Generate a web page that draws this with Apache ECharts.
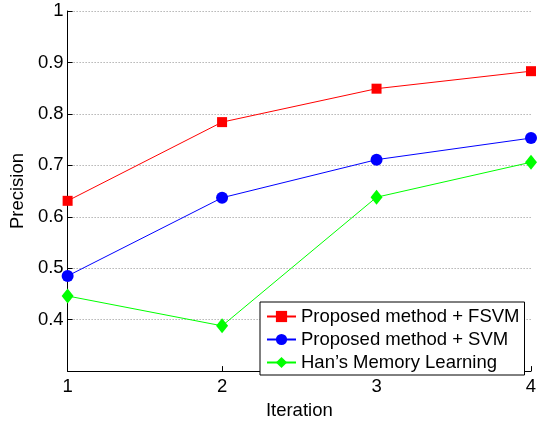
<!DOCTYPE html>
<html><head><meta charset="utf-8">
<script src="https://cdn.jsdelivr.net/npm/echarts@6/dist/echarts.min.js"></script>
<style>html,body{margin:0;padding:0;background:#fff}#c{width:545px;height:425px}</style>
</head><body><div id="c"></div>
<script>
const iterations = [1, 2, 3, 4];
const fsvm = [0.631, 0.784, 0.849, 0.883];
const svm = [0.485, 0.637, 0.711, 0.753];
const han = [0.446, 0.388, 0.638, 0.706];
const seriesNames = ['Proposed method + FSVM', 'Proposed method + SVM', 'Han\u2019s Memory Learning'];
const yTicks = [0.4, 0.5, 0.6, 0.7, 0.8, 0.9, 1];

const font = 'Liberation Sans, Arial, Helvetica, sans-serif';
const fs = 18.5;
function pairs(v){ return iterations.map((x,i)=>[x, v[i]]); }
const chart = echarts.init(document.getElementById('c'), null, {renderer:'canvas'});
chart.setOption({
  animation: false,
  backgroundColor: '#fff',
  textStyle: {fontFamily: font},
  grid: {left: 66, right: 14, top: 11, bottom: 47, containLabel: false},
  xAxis: {
    type: 'value', min: 1, max: 4, interval: 1,
    name: 'Iteration', nameLocation: 'middle', nameGap: 26,
    nameTextStyle: {fontSize: fs, color: '#000', fontFamily: font},
    axisLine: {show: true, onZero: false, lineStyle: {color: '#000', width: 1}},
    axisTick: {show: true, inside: true, length: 5, lineStyle: {color: '#000'}},
    axisLabel: {fontSize: fs, color: '#000', margin: 6, fontFamily: font},
    splitLine: {show: false}
  },
  yAxis: {
    type: 'value', min: 0.3, max: 1, interval: 0.1,
    name: 'Precision', nameLocation: 'middle', nameGap: 36,
    nameTextStyle: {fontSize: fs, color: '#000', fontFamily: font},
    axisLine: {show: true, onZero: false, lineStyle: {color: '#000', width: 1}},
    axisTick: {show: true, inside: true, length: 5, lineStyle: {color: '#000'}},
    axisLabel: {fontSize: fs, color: '#000', margin: 4, fontFamily: font,
      formatter: function(v){
        const r = Math.round(v*10)/10;
        return yTicks.some(t => Math.abs(t - r) < 1e-9) ? String(r) : '';
      }},
    splitLine: {show: true, lineStyle: {color: '#909090', type: [1, 2], width: 1}}
  },
  legend: {
    orient: 'vertical', left: 260, top: 302,
    backgroundColor: '#fff', borderColor: '#000', borderWidth: 1,
    padding: [5, 5, 3, 6], itemGap: 4, itemWidth: 29, itemHeight: 14,
    textStyle: {fontSize: fs, color: '#000', lineHeight: 18, fontFamily: font},
    data: seriesNames
  },
  series: [
    {name: seriesNames[0], type: 'line', data: pairs(fsvm), symbol: 'rect', symbolSize: 10,
     color: '#ff0000', lineStyle: {width: 1, color: '#ff0000'}, itemStyle: {color: '#ff0000'}},
    {name: seriesNames[1], type: 'line', data: pairs(svm), symbol: 'circle', symbolSize: 12,
     color: '#0000ff', lineStyle: {width: 1, color: '#0000ff'}, itemStyle: {color: '#0000ff'}},
    {name: seriesNames[2], type: 'line', data: pairs(han), symbol: 'diamond', symbolSize: [12, 15],
     color: '#00ff00', lineStyle: {width: 1, color: '#00ff00'}, itemStyle: {color: '#00ff00'}}
  ]
});
</script></body></html>
